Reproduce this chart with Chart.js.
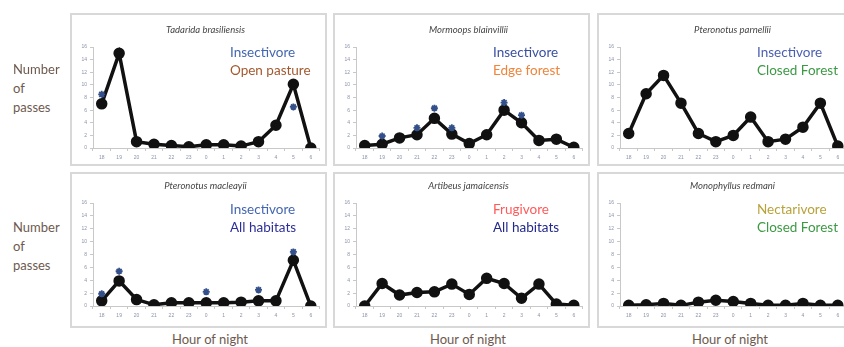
<!DOCTYPE html>
<html>
<head>
<meta charset="utf-8">
<script src="https://cdn.jsdelivr.net/npm/chart.js@4/dist/chart.umd.min.js"></script>
<style>
  html, body { margin: 0; padding: 0; background: #fff; }
  body { width: 844px; height: 347px; position: relative; overflow: hidden; font-family: Lato, "Open Sans", sans-serif; }
  .box { position: absolute; box-sizing: border-box; border: 2px solid #d8d8d8; }
  canvas { position: absolute; }
  .txt { position: absolute; white-space: nowrap; line-height: 1; }
  .title { font-style: italic; font-size: 9.5px; color: #444; transform: translateX(-50%); }
  .note { font-size: 13.5px; }
  .ylab { font-size: 13px; color: #6e5a4e; line-height: 19px; left: 13px; }
  .xlab { font-size: 13px; color: #6e5a4e; transform: translateX(-50%); top: 333px; }
</style>
</head>
<body>
<script>
const HOURS = ["18", "19", "20", "21", "22", "23", "0", "1", "2", "3", "4", "5", "6"];
const Y_MIN = 0;
const Y_MAX = 16;
const Y_STEP = 2;

// passes per hour
const tadaridaPasses = [7.0, 15.0, 1.0, 0.6, 0.4, 0.2, 0.5, 0.5, 0.3, 1.0, 3.6, 10.1, 0];
const tadaridaStars = [8.5, 16.6, null, null, null, null, null, null, null, null, null, 6.5, null];

const mormoopsPasses = [0.4, 0.6, 1.6, 2.1, 4.7, 2.2, 0.7, 2.1, 6.0, 4.0, 1.2, 1.4, 0.1];
const mormoopsStars = [null, 1.9, null, 3.2, 6.3, 3.2, null, null, 7.2, 5.2, null, null, null];

const parnelliiPasses = [2.3, 8.6, 11.5, 7.1, 2.3, 1.0, 2.0, 4.9, 1.0, 1.4, 3.3, 7.1, 0.3];

const macleayiiPasses = [0.8, 3.9, 1.0, 0.2, 0.5, 0.5, 0.5, 0.5, 0.6, 0.8, 0.8, 7.1, 0];
const macleayiiStars = [1.9, 5.4, null, null, null, null, 2.2, null, null, 2.5, null, 8.4, null];

const artibeusPasses = [0, 3.5, 1.7, 2.1, 2.2, 3.4, 1.8, 4.3, 3.5, 1.2, 3.4, 0.3, 0.1];

const monophyllusPasses = [0.1, 0.2, 0.4, 0.1, 0.6, 0.9, 0.7, 0.4, 0.1, 0.1, 0.4, 0.1, 0.1];

const PANELS = [
  { name: "Tadarida brasiliensis", passes: tadaridaPasses, stars: tadaridaStars,
    diet: ["Insectivore", "#4466b0"], habitat: ["Open pasture", "#a4582e"], x: 70, row: 0 },
  { name: "Mormoops blainvillii", passes: mormoopsPasses, stars: mormoopsStars,
    diet: ["Insectivore", "#3a4fa0"], habitat: ["Edge forest", "#f0843a"], x: 333, row: 0 },
  { name: "Pteronotus parnellii", passes: parnelliiPasses, stars: null,
    diet: ["Insectivore", "#4a5fb0"], habitat: ["Closed Forest", "#3c9a44"], x: 597, row: 0 },
  { name: "Pteronotus macleayii", passes: macleayiiPasses, stars: macleayiiStars,
    diet: ["Insectivore", "#4466b0"], habitat: ["All habitats", "#2c2f9a"], x: 70, row: 1 },
  { name: "Artibeus jamaicensis", passes: artibeusPasses, stars: null,
    diet: ["Frugivore", "#ff5a5a"], habitat: ["All habitats", "#22288c"], x: 333, row: 1 },
  { name: "Monophyllus redmani", passes: monophyllusPasses, stars: null,
    diet: ["Nectarivore", "#b8a23a"], habitat: ["Closed Forest", "#3c9a44"], x: 597, row: 1 },
];

const ROWS = [
  { top: 13, height: 153, padTop: 34, xAxisH: 18, titleY: 25, dietY: 43, ylabY: 60 },
  { top: 172, height: 156, padTop: 31, xAxisH: 22, titleY: 181, dietY: 200, ylabY: 218 },
];
const PANEL_W = 257;

function addText(cls, text, left, top, color) {
  const el = document.createElement("div");
  el.className = "txt " + cls;
  el.textContent = text;
  el.style.left = left + "px";
  el.style.top = top + "px";
  if (color) el.style.color = color;
  document.body.appendChild(el);
  return el;
}

function buildPanel(p) {
  const r = ROWS[p.row];
  const box = document.createElement("div");
  box.className = "box";
  box.style.left = p.x + "px";
  box.style.top = r.top + "px";
  box.style.width = PANEL_W + "px";
  box.style.height = r.height + "px";
  document.body.appendChild(box);

  const canvas = document.createElement("canvas");
  canvas.width = PANEL_W;
  canvas.height = r.height;
  canvas.style.left = p.x + "px";
  canvas.style.top = r.top + "px";
  document.body.appendChild(canvas);

  const datasets = [
    {
      data: p.passes,
      borderColor: "#111",
      backgroundColor: "#111",
      borderWidth: 3.5,
      pointRadius: 4,
      pointBackgroundColor: "#111",
      tension: 0,
      order: 2,
    },
  ];
  if (p.stars) {
    datasets.push({
      data: p.stars,
      showLine: false,
      pointStyle: "star",
      pointRadius: 3.5,
      pointBorderWidth: 1.8,
      pointBorderColor: "#33508a",
      borderColor: "#33508a",
      order: 1,
    });
  }

  new Chart(canvas.getContext("2d"), {
    type: "line",
    data: { labels: HOURS, datasets },
    options: {
      responsive: false,
      devicePixelRatio: 1,
      animation: false,
      layout: { padding: { top: r.padTop, right: 3, left: 0, bottom: 0 } },
      plugins: { legend: { display: false }, tooltip: { enabled: false } },
      scales: {
        x: {
          type: "category",
          offset: true,
          grid: { drawOnChartArea: false, tickLength: 3, color: "#c8c8c8", offset: true },
          border: { color: "#c8c8c8" },
          ticks: { font: { size: 5 }, color: "#8a93aa", padding: 4, autoSkip: false, maxRotation: 0 },
          afterFit: (s) => { s.height = r.xAxisH; },
        },
        y: {
          min: Y_MIN,
          max: Y_MAX,
          grid: { drawOnChartArea: false, tickLength: 3, color: "#c8c8c8" },
          border: { color: "#c8c8c8" },
          ticks: { stepSize: Y_STEP, font: { size: 5 }, color: "#8a93aa", padding: 3 },
          afterFit: (s) => { s.width = 23; },
        },
      },
    },
  });

  const cx = p.x + 23 + 231 / 2 - 3;
  addText("title", p.name, cx, r.titleY);
  addText("note", p.diet[0], p.x + 160, r.dietY + 3, p.diet[1]);
  addText("note", p.habitat[0], p.x + 160, r.dietY + 21, p.habitat[1]);
}

PANELS.forEach(buildPanel);

for (const r of ROWS) {
  addText("ylab", "Number", 13, r.ylabY);
  addText("ylab", "of", 13, r.ylabY + 19);
  addText("ylab", "passes", 13, r.ylabY + 38);
}
for (const cx of [210, 468, 730]) addText("xlab", "Hour of night", cx, 333);
</script>
</body>
</html>
